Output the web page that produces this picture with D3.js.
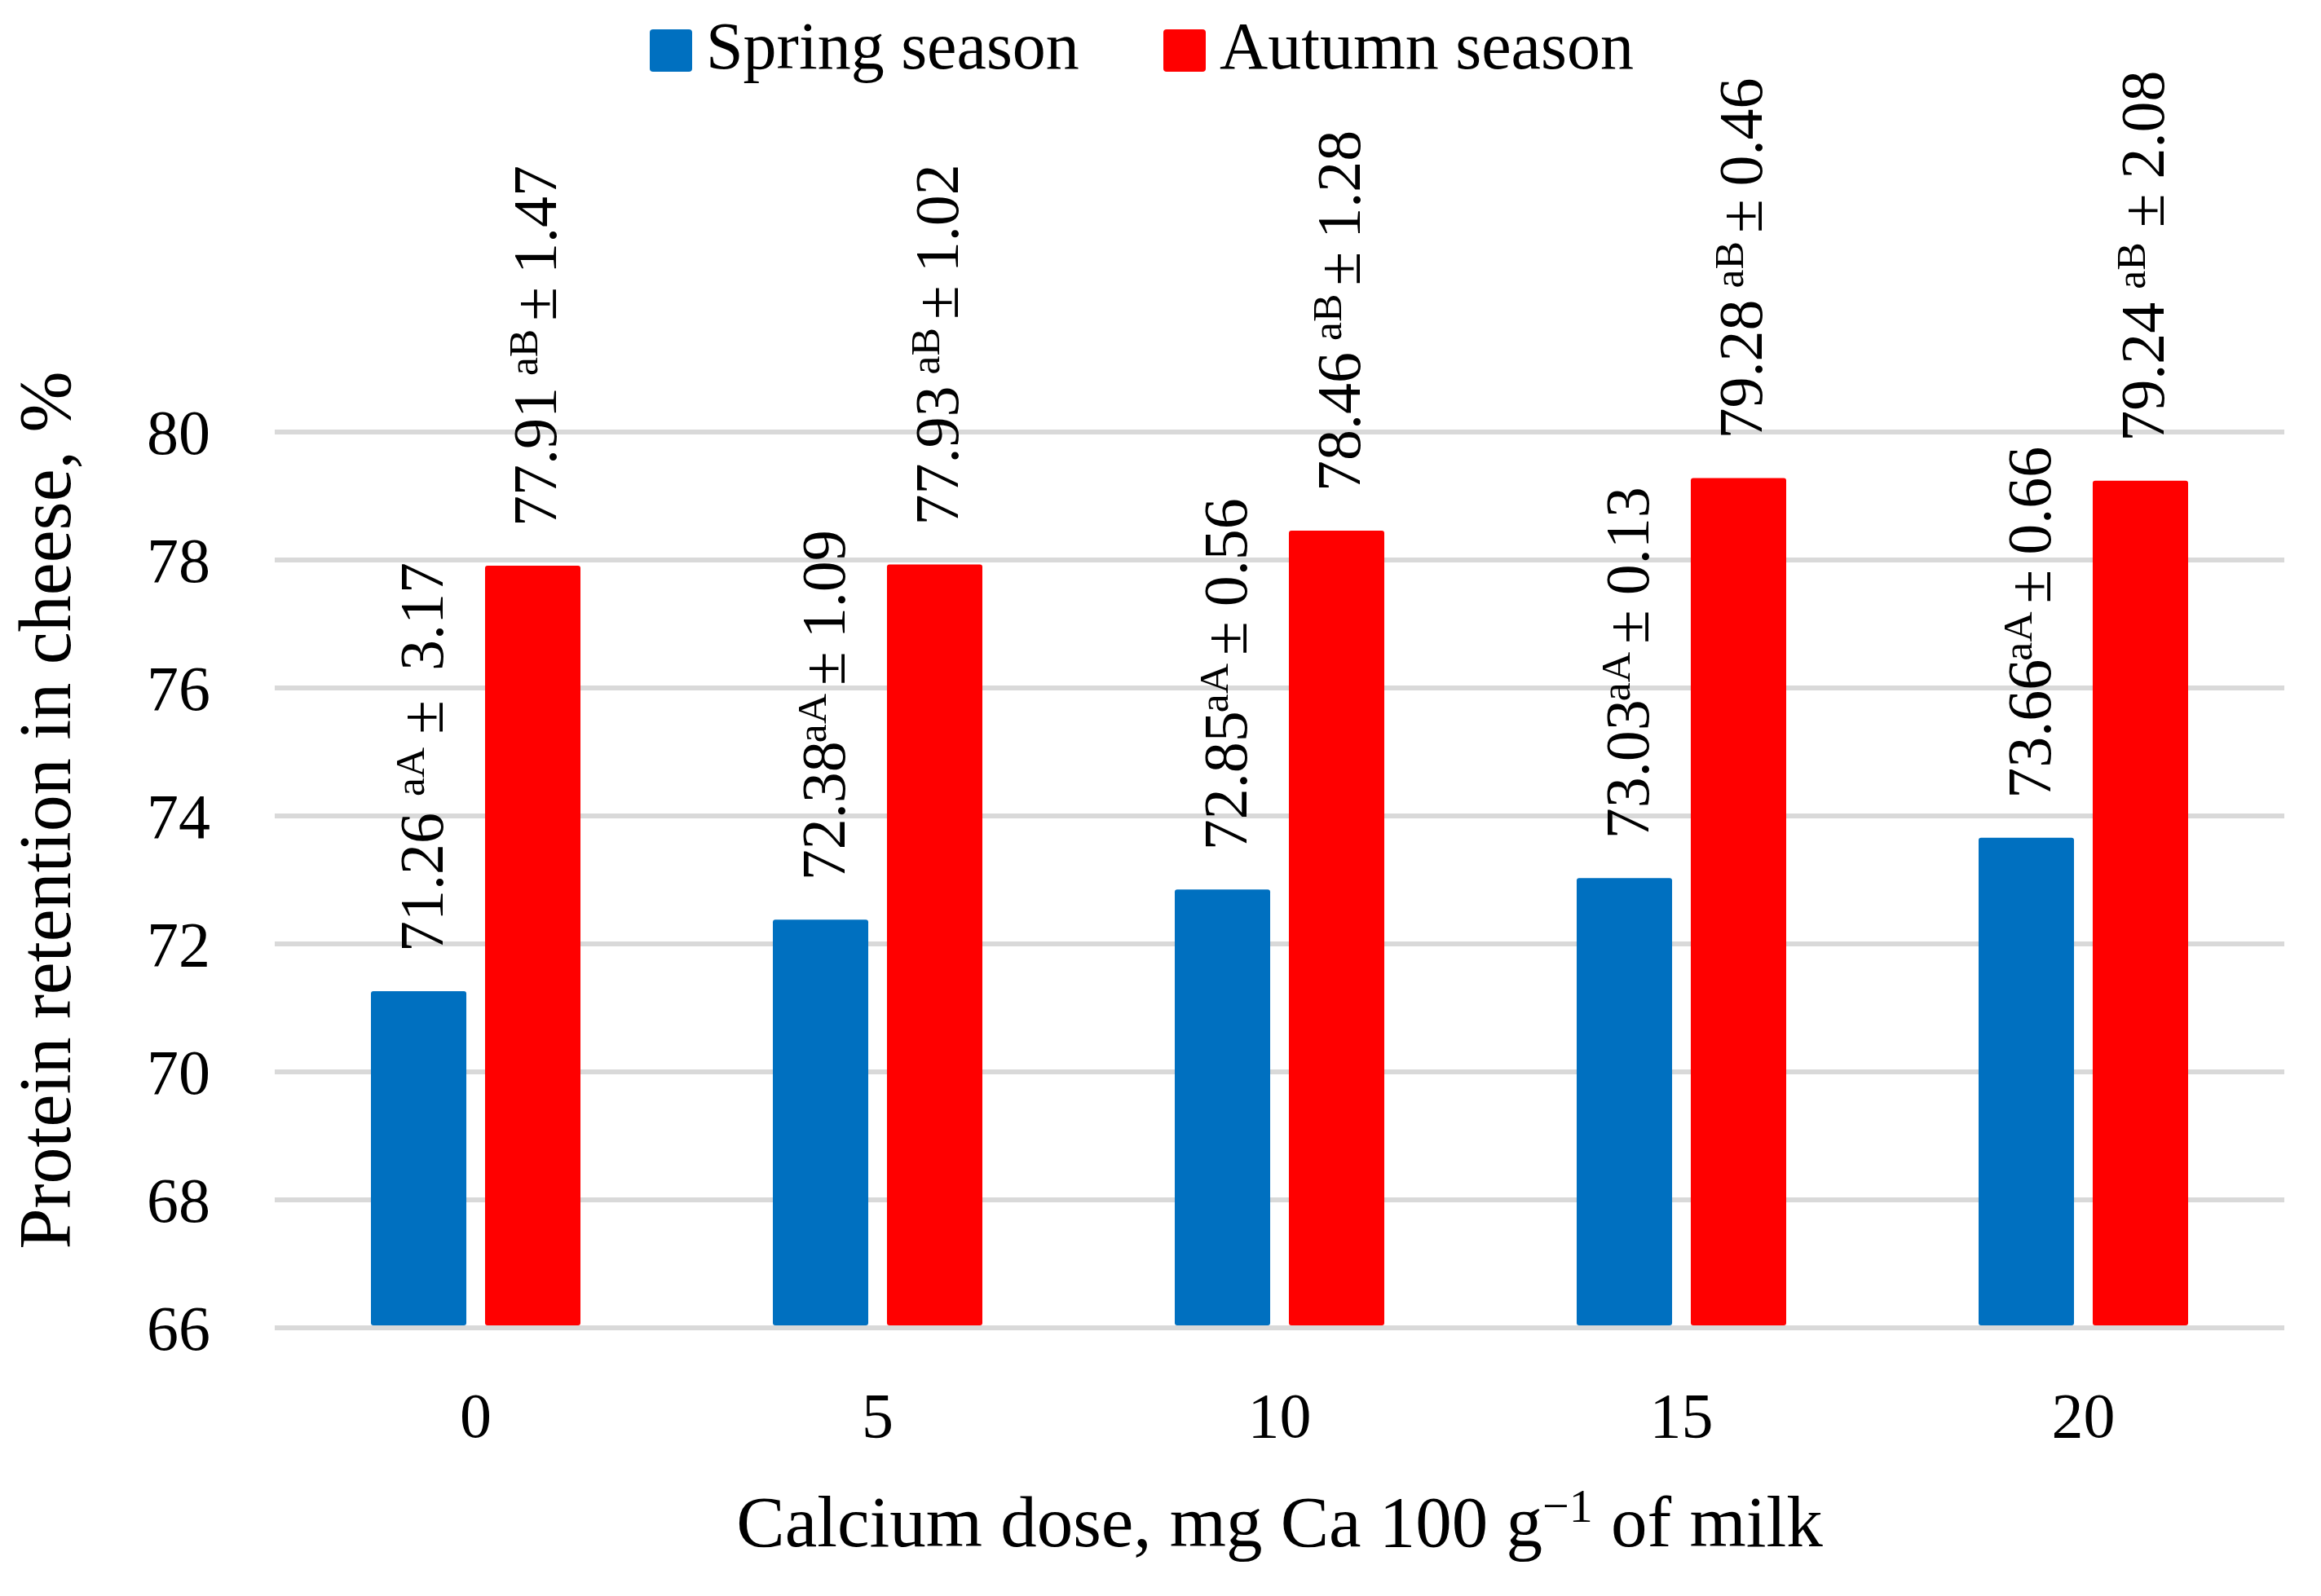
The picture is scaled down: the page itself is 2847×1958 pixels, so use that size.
<!DOCTYPE html>
<html>
<head>
<meta charset="utf-8">
<script src="https://cdn.jsdelivr.net/npm/d3@7"></script>
<style>
  html, body { margin: 0; padding: 0; background: #fff; }
  svg { display: block; }
  text { font-family: "Liberation Serif", "Times New Roman", serif; fill: #000; }
</style>
</head>
<body>
<svg id="chart" width="2847" height="1958"></svg>
<script>
// ---- data ----
const categories = ["0", "5", "10", "15", "20"];
const seriesNames = ["Spring season", "Autumn season"];
const springMeans = [71.26, 72.38, 72.85, 73.03, 73.66];
const autumnMeans = [77.91, 77.93, 78.46, 79.28, 79.24];
const springSD = [3.17, 1.09, 0.56, 0.13, 0.66];
const autumnSD = [1.47, 1.02, 1.28, 0.46, 2.08];
const springLetters = ["aA", "aA", "aA", "aA", "aA"];
const autumnLetters = ["aB", "aB", "aB", "aB", "aB"];
const yTicks = [66, 68, 70, 72, 74, 76, 78, 80];
const yTitle = "Protein retention in cheese, %";
const xTitleParts = ["Calcium dose, mg Ca 100 g", "\u22121", " of milk"];

// ---- styles / layout ----
const colors = ["#0070C0", "#FF0000"];
const W = 2847, H = 1958;
const plot = { left: 337, right: 2802, top: 530, bottom: 1629 };

const svg = d3.select("#chart");
svg.append("rect").attr("width", W).attr("height", H).attr("fill", "#fff");

const y = d3.scaleLinear().domain([66, 80]).range([plot.bottom, plot.top]);
const x0 = d3.scaleBand().domain(categories).range([plot.left, plot.right])
  .paddingInner(0.4787).paddingOuter(0.4787 / 2);
const x1 = d3.scaleBand().domain(["spring", "autumn"]).range([0, x0.bandwidth()])
  .paddingInner(0.164);

// gridlines
svg.append("g").selectAll("line").data(yTicks).join("line")
  .attr("x1", plot.left).attr("x2", plot.right)
  .attr("y1", d => y(d)).attr("y2", d => y(d))
  .attr("stroke", "#d9d9d9").attr("stroke-width", 6);

// y tick labels
svg.append("g").selectAll("text").data(yTicks).join("text")
  .attr("x", 258).attr("y", d => y(d))
  .attr("text-anchor", "end").attr("dominant-baseline", "central")
  .attr("font-size", 78).text(d => d);

// bars
const rows = categories.map((c, i) => ({
  cat: c,
  vals: [
    { key: "spring", v: springMeans[i], sd: springSD[i], let: springLetters[i], s: 0, i },
    { key: "autumn", v: autumnMeans[i], sd: autumnSD[i], let: autumnLetters[i], s: 1, i }
  ]
}));

const groups = svg.append("g").selectAll("g").data(rows).join("g")
  .attr("transform", d => `translate(${x0(d.cat)},0)`);

groups.selectAll("rect").data(d => d.vals).join("rect")
  .attr("x", d => x1(d.key)).attr("width", x1.bandwidth())
  .attr("y", d => y(d.v)).attr("height", d => y(66) - y(d.v) - 3)
  .attr("rx", 3)
  .attr("fill", d => colors[d.s]);

// gap (px) between label pieces: number->letters, letters->±, ±->sd
function gaps(d) {
  if (d.s === 1) return d.i === 4 ? [16, 18, 18] : [14, 10, 16];
  if (d.i === 0) return [20, 16, 36];
  if (d.i === 1) return [-2, 10, 16];
  return [-2, 10, 18];
}

const FS = 76;
groups.selectAll("text.lbl").data(d => d.vals).join("text")
  .attr("class", "lbl")
  .attr("font-size", FS)
  .attr("transform", d => `translate(${x1(d.key) + x1.bandwidth() / 2 + 29},${y(d.v) - 48}) rotate(-90)`)
  .each(function (d) {
    const t = d3.select(this);
    const g = gaps(d);
    t.append("tspan").text(d.v.toFixed(2));
    t.append("tspan").attr("dx", g[0]).attr("dy", -23).attr("font-size", FS * 0.68).text(d.let);
    t.append("tspan").attr("dx", g[1]).attr("dy", 23).text("\u00B1");
    t.append("tspan").attr("dx", g[2]).text(d.sd.toFixed(2));
  });

// x tick labels
svg.append("g").selectAll("text").data(categories).join("text")
  .attr("x", d => x0(d) + x0.bandwidth() / 2).attr("y", 1763)
  .attr("text-anchor", "middle").attr("font-size", 78).text(d => d);

// x title
const xt = svg.append("text").attr("x", (plot.left + plot.right) / 2).attr("y", 1897)
  .attr("text-anchor", "middle").attr("font-size", 89);
xt.append("tspan").text(xTitleParts[0]);
xt.append("tspan").attr("dy", -30).attr("font-size", 58).text(xTitleParts[1]);
xt.append("tspan").attr("dy", 30).text(xTitleParts[2]);

// y title
svg.append("text").attr("transform", "translate(86,994) rotate(-90)")
  .attr("text-anchor", "middle").attr("font-size", 90).text(yTitle);

// legend
const legendX = [797, 1427];
const leg = svg.append("g").selectAll("g").data(seriesNames).join("g")
  .attr("transform", (d, i) => `translate(${legendX[i]},0)`);
leg.append("rect").attr("x", 0).attr("y", 36).attr("width", 52).attr("height", 52)
  .attr("rx", 4).attr("fill", (d, i) => colors[i]);
leg.append("text").attr("x", 69).attr("y", 84).attr("font-size", 82).text(d => d);
</script>
</body>
</html>
